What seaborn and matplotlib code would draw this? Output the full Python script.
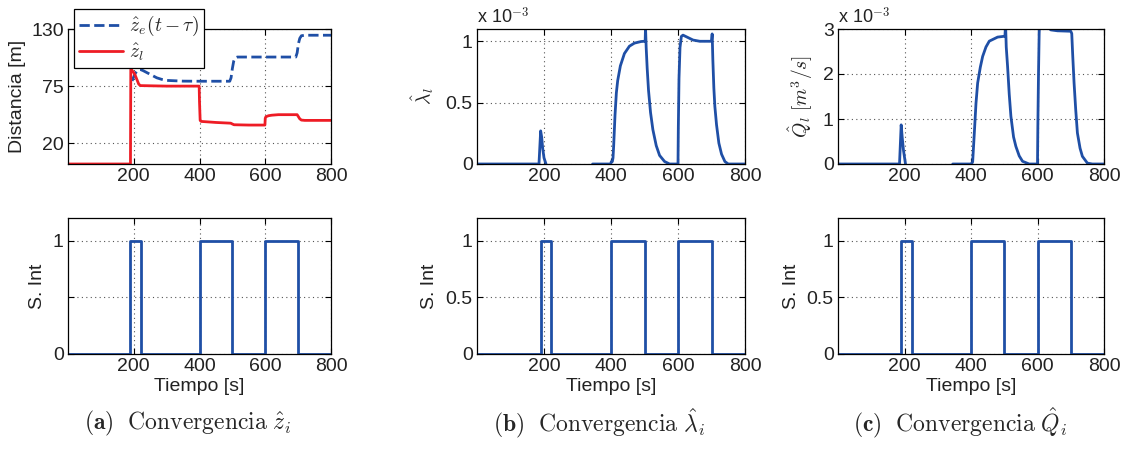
import matplotlib
matplotlib.use("Agg")
import numpy as np
import pandas as pd
import matplotlib.pyplot as plt
import seaborn as sns
from matplotlib.ticker import FuncFormatter

# ---------------- data ----------------
# (a) distances
ze_t = [195, 200, 205, 210, 215, 220, 228, 240, 255, 270, 285, 300, 350, 400, 450, 492,
        496, 500, 504, 508, 515, 600, 693, 697, 701, 705, 710, 720, 800]
ze_v = [80, 84, 87.5, 89.5, 91, 91, 90, 88, 85.5, 83, 81.5, 80.5, 79.8, 79.7, 79.7, 79.7,
        83, 92, 99, 102, 103, 103, 103, 107, 116, 121, 123.5, 124, 124]

zl_t = [0, 190, 191, 195, 200, 205, 210, 215, 220, 300, 399, 400, 402, 405, 450, 495,
        500, 505, 550, 599, 600, 602, 610, 620, 640, 697, 700, 705, 710, 720, 800]
zl_v = [0, 0, 91, 90, 88, 85, 81, 77, 75.5, 75, 75, 60, 42, 41, 40, 39.3,
        38.5, 37.8, 37.5, 37.5, 44, 45.5, 46.5, 47, 47.5, 47.5, 46, 43.5, 42.3, 42, 42]

# (b) lambda estimate (units of 1e-3), two recorded segments
lam1_t = [0, 185, 190, 193, 196, 200, 206]
lam1_v = [0, 0, 0.27, 0.22, 0.13, 0.05, 0]
lam2_t = [345, 399, 401, 404, 406, 408, 412, 416, 420, 428, 440, 455, 470, 490, 500,
          502, 503, 505, 508, 512, 518, 525, 535, 545, 560, 575, 600,
          601, 603, 606, 610, 615, 630, 645, 665, 700, 702, 704, 707, 710, 715,
          722, 730, 740, 750, 800]
lam2_v = [0, 0, 0.02, 0.02, 0.05, 0.15, 0.4, 0.58, 0.68, 0.8, 0.9, 0.96, 0.985, 0.998, 1.0,
          1.0, 1.12, 0.95, 0.78, 0.6, 0.42, 0.28, 0.15, 0.07, 0.02, 0, 0,
          0.3, 0.7, 0.95, 1.04, 1.05, 1.03, 1.01, 1.0, 1.0, 1.06, 0.85, 0.62, 0.47, 0.32,
          0.17, 0.08, 0.02, 0, 0]

# (c) Q estimate (units of 1e-3), two recorded segments
q1_t = [0, 185, 190, 193, 197, 203]
q1_v = [0, 0, 0.87, 0.6, 0.3, 0]
q2_t = [345, 400, 403, 405, 410, 415, 420, 428, 435, 445, 455, 480, 502,
        504, 506, 510, 515, 520, 528, 535, 545, 555, 575, 600,
        601, 603, 605, 607, 615, 630, 640, 660, 700, 703, 706, 710, 715, 720,
        728, 735, 750, 765, 800]
q2_v = [0, 0, 0.02, 0.05, 0.69, 1.35, 1.8, 2.15, 2.39, 2.6, 2.73, 2.82, 2.84,
        3.1, 2.6, 2.17, 1.55, 1.06, 0.6, 0.39, 0.18, 0.06, 0, 0,
        0.8, 2.0, 2.9, 3.3, 3.2, 3.05, 2.98, 2.96, 2.95, 2.9, 2.4, 1.8, 1.2, 0.69,
        0.35, 0.17, 0.02, 0, 0]

# switching signal (steps)
s_t = [0, 190, 222, 400, 500, 600, 700, 800]
s_v = [0, 1, 0, 1, 0, 1, 0, 0]

x_ticks = [200, 400, 600, 800]

# ---------------- style ----------------
sns.set_style("ticks")
plt.rcParams["font.family"] = ["Liberation Sans", "DejaVu Sans"]
plt.rcParams["mathtext.fontset"] = "cm"

BLUE = "#1f4fa6"
RED = "#ee1c25"
FS = 14
LW = 2.0

fig = plt.figure(figsize=(11.24, 4.49), dpi=100)

W, H = 1124, 449
def pos(x0, x1, y0, y1):
    return [x0 / W, 1 - y1 / H, (x1 - x0) / W, (y1 - y0) / H]

top_boxes = [pos(68, 331, 29, 164), pos(477, 745, 29, 164), pos(838, 1104, 29, 164)]
bot_boxes = [pos(68, 331, 218, 354), pos(477, 745, 218, 354), pos(838, 1104, 218, 354)]


def style(ax):
    ax.set_xlim(0, 800)
    ax.set_xticks(x_ticks)
    ax.grid(True, linestyle=(0, (1, 3)), color="#555555", linewidth=0.8)
    for sp in ax.spines.values():
        sp.set_visible(True)
        sp.set_color("black")
        sp.set_linewidth(0.9)
    ax.tick_params(direction="in", top=True, right=True, length=4, width=0.8,
                   labelsize=FS, colors="black", labelcolor="#222222", pad=3)
    ax.set_xlabel("")
    ax.set_ylabel("")


def line(ax, t, v, scale=1.0, **kw):
    df = pd.DataFrame({"t": t, "v": np.asarray(v, dtype=float) * scale})
    sns.lineplot(data=df, x="t", y="v", ax=ax, estimator=None, sort=False, **kw)


# ---- (a) top ----
ax = fig.add_axes(top_boxes[0])
line(ax, ze_t, ze_v, color=BLUE, lw=LW, linestyle="--", label=r"$\hat{z}_e(t-\tau)$")
line(ax, zl_t, zl_v, color=RED, lw=LW, label=r"$\hat{z}_l$")
style(ax)
ax.set_ylim(0, 130)
ax.set_yticks([20, 75, 130])
ax.set_ylabel("Distancia [m]", fontsize=FS, color="#222222")
ax.yaxis.set_label_coords(-0.16, 0.5)
leg = ax.legend(loc="upper left", bbox_to_anchor=(0.022, 1.145), fontsize=FS,
                frameon=True, fancybox=False, edgecolor="black", framealpha=1,
                handlelength=2.3, borderpad=0.25, labelspacing=0.15, handletextpad=0.3,
                borderaxespad=0)
leg.get_frame().set_linewidth(0.9)

# ---- (b) top ----
ax = fig.add_axes(top_boxes[1])
line(ax, lam1_t, lam1_v, scale=1e-3, color=BLUE, lw=LW)
line(ax, lam2_t, lam2_v, scale=1e-3, color=BLUE, lw=LW)
style(ax)
ax.set_ylim(0, 1.1e-3)
ax.set_yticks([0, 0.5e-3, 1e-3])
ax.yaxis.set_major_formatter(FuncFormatter(lambda v, p: f"{v * 1e3:g}"))
ax.set_ylabel(r"$\hat{\lambda}_l$", fontsize=FS, color="#222222")
ax.yaxis.set_label_coords(-0.153, 0.5)
ax.text(0.0, 1.015, r"x 10$^{-3}$", transform=ax.transAxes, ha="left", va="bottom",
        fontsize=13, color="#222222")

# ---- (c) top ----
ax = fig.add_axes(top_boxes[2])
line(ax, q1_t, q1_v, scale=1e-3, color=BLUE, lw=LW)
line(ax, q2_t, q2_v, scale=1e-3, color=BLUE, lw=LW)
style(ax)
ax.set_ylim(0, 3e-3)
ax.set_yticks([0, 1e-3, 2e-3, 3e-3])
ax.yaxis.set_major_formatter(FuncFormatter(lambda v, p: f"{v * 1e3:g}"))
ax.set_ylabel(r"$\hat{Q}_l\ [m^3/s]$", fontsize=FS, color="#222222")
ax.yaxis.set_label_coords(-0.086, 0.5)
ax.text(0.0, 1.015, r"x 10$^{-3}$", transform=ax.transAxes, ha="left", va="bottom",
        fontsize=13, color="#222222")

# ---- bottom panels ----
slab_x = [-0.084, -0.146, -0.143]
for i, box in enumerate(bot_boxes):
    ax = fig.add_axes(box)
    line(ax, s_t, s_v, color=BLUE, lw=LW, drawstyle="steps-post")
    style(ax)
    ax.set_ylim(0, 1.2)
    ax.set_yticks([0, 0.5, 1])
    if i == 0:
        ax.set_yticklabels(["0", "", "1"])
    else:
        ax.set_yticklabels(["0", "0.5", "1"])
    ax.set_ylabel("S. Int", fontsize=FS, color="#222222")
    ax.yaxis.set_label_coords(slab_x[i], 0.5)
    ax.set_xlabel("Tiempo [s]", fontsize=FS, labelpad=2, color="#222222")

# ---- captions ----
caps = [r"$\mathbf{(a)}\ \ \mathrm{Convergencia}\ \hat{z}_i$",
        r"$\mathbf{(b)}\ \ \mathrm{Convergencia}\ \hat{\lambda}_i$",
        r"$\mathbf{(c)}\ \ \mathrm{Convergencia}\ \hat{Q}_i$"]
cap_x = [188, 599, 960]
for c, x in zip(caps, cap_x):
    fig.text(x / W, 1 - 423 / H, c, ha="center", va="center", fontsize=17)

fig.savefig("out.png", dpi=100)
